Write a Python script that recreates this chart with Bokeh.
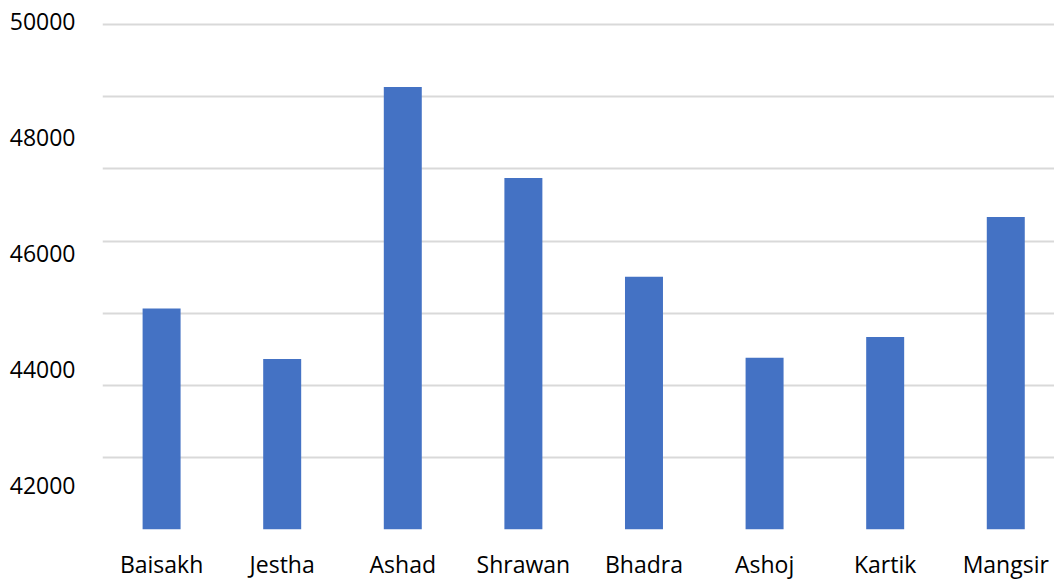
from bokeh.plotting import figure
from bokeh.models import ColumnDataSource, FixedTicker, Range1d
from bokeh.embed import file_html
from bokeh.resources import INLINE
import numpy as np

# Monthly totals (Nepali calendar months)
months = ["Baisakh", "Jestha", "Ashad", "Shrawan", "Bhadra", "Ashoj", "Kartik", "Mangsir"]
values = [45050, 44180, 48870, 47300, 45600, 44200, 44560, 46630]
y_tick_values = [42000, 44000, 46000, 48000, 50000]

y_start, y_end = 41240, 50190
grid_top = 49945
n_gridlines = 8

xs = list(range(len(months)))
source = ColumnDataSource(dict(x=xs, top=values, month=months))

p = figure(
    width=1054, height=582,
    x_range=Range1d(-0.49, 7.404),
    y_range=Range1d(y_start, y_end),
    output_backend="svg", toolbar_location=None,
    min_border_left=102, min_border_right=0,
    min_border_top=10, min_border_bottom=51,
)
p.outline_line_color = None
p.background_fill_color = "white"
p.border_fill_color = "white"

p.vbar(x="x", top="top", bottom=y_start, width=0.315, source=source,
       fill_color="#4472c4", line_color=None)

font = "Open Sans"

# y axis: labels only, no line or ticks
p.yaxis.ticker = FixedTicker(ticks=y_tick_values)
p.yaxis.axis_line_color = None
p.yaxis.major_tick_line_color = None
p.yaxis.minor_tick_line_color = None
p.yaxis.major_tick_out = 0
p.yaxis.major_label_standoff = 27
p.yaxis.major_label_text_font = font
p.yaxis.major_label_text_font_size = "23px"
p.yaxis.major_label_text_color = "black"

# horizontal gridlines
p.ygrid.ticker = FixedTicker(ticks=list(np.linspace(y_start, grid_top, n_gridlines)))
p.ygrid.grid_line_color = "#d9d9d9"
p.ygrid.grid_line_width = 2
p.xgrid.grid_line_color = None

# x axis: category names under each bar
p.xaxis.ticker = FixedTicker(ticks=xs)
p.xaxis.major_label_overrides = {i: m for i, m in zip(xs, months)}
p.xaxis.axis_line_color = None
p.xaxis.major_tick_line_color = None
p.xaxis.minor_tick_line_color = None
p.xaxis.major_tick_out = 0
p.xaxis.major_label_standoff = 18
p.xaxis.major_label_text_font = font
p.xaxis.major_label_text_font_size = "23px"
p.xaxis.major_label_text_color = "black"

open("out.html", "w").write(file_html(p, INLINE))
